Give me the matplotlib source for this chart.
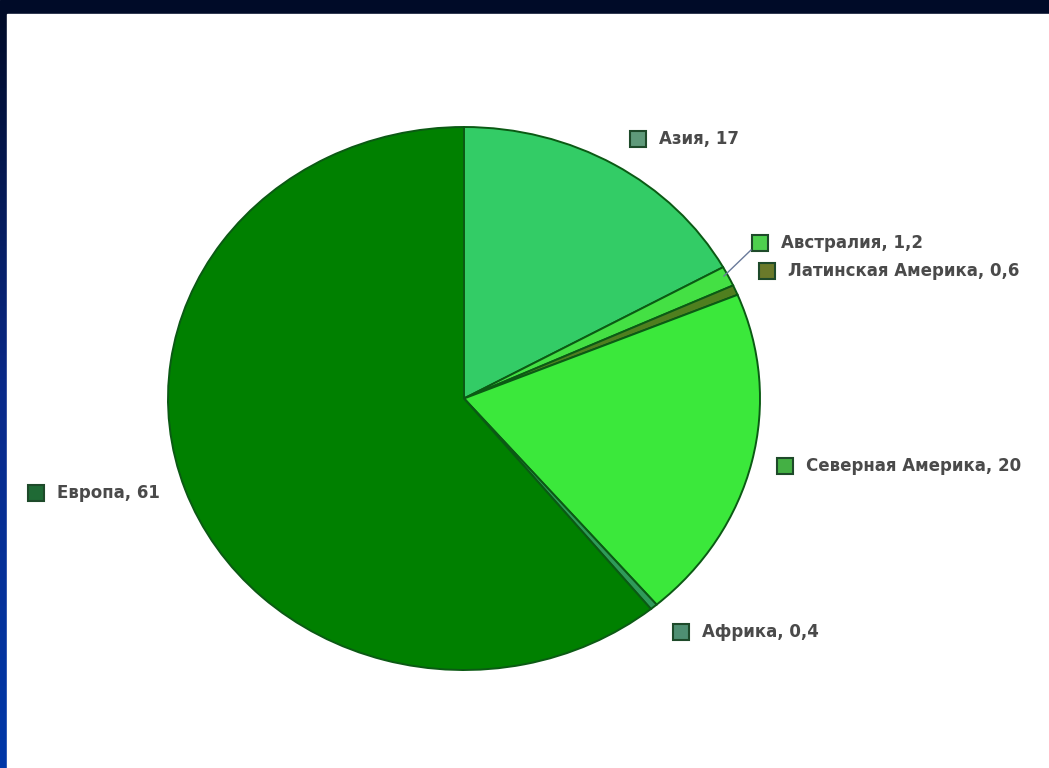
import numpy as np
import matplotlib
matplotlib.use("Agg")
import matplotlib.pyplot as plt
from matplotlib.patches import Rectangle

# data (clockwise from 12 o'clock)
regions = ["Азия", "Австралия", "Латинская Америка", "Северная Америка", "Африка", "Европа"]
values = [17, 1.2, 0.6, 20, 0.4, 61]
value_text = ["17", "1,2", "0,6", "20", "0,4", "61"]
colors = ["#33cc66", "#44e044", "#4f7f1f", "#3be83b", "#2f9a5a", "#008000"]
marker_colors = ["#5f9a7a", "#4ed04e", "#6a7a2a", "#44b044", "#4f8f72", "#1f6a35"]

W, H = 1049, 768
fig = plt.figure(figsize=(W / 100, H / 100), dpi=100)

# background frame
bg = fig.add_axes([0, 0, 1, 1], zorder=0)
bg.add_patch(Rectangle((0, 0), W, H, color="#000b28", zorder=1))
side = matplotlib.colors.LinearSegmentedColormap.from_list(
    "side", ["#000b28", "#0a2a8a", "#0038a8"])
grad = np.linspace(1, 0, 256).reshape(-1, 1)
bg.imshow(grad, extent=[0, 7, 14, H], cmap=side, aspect="auto",
          origin="upper", zorder=2)
bg.add_patch(Rectangle((7, 14), W - 7, H - 14, color="white", zorder=3))
bg.set_xlim(0, W)
bg.set_ylim(H, 0)
bg.axis("off")

# pie, stretched into its ellipse box (pixels: x 168..760, y 127..670)
x0, x1, y0, y1 = 168, 760, 127, 670
pie_ax = fig.add_axes([x0 / W, 1 - y1 / H, (x1 - x0) / W, (y1 - y0) / H], zorder=1)
pie_ax.pie(values, colors=colors, startangle=90, counterclock=False,
           wedgeprops=dict(edgecolor="#0b5a14", linewidth=1.4))
pie_ax.set_xlim(-1.0, 1.0)
pie_ax.set_ylim(-1.0, 1.0)
pie_ax.set_aspect("auto")
pie_ax.axis("off")

# labels overlay
ov = fig.add_axes([0, 0, 1, 1], zorder=2)
ov.set_xlim(0, W)
ov.set_ylim(H, 0)
ov.axis("off")
ov.patch.set_alpha(0)

label_pos = [(638, 139), (760, 243), (767, 271), (785, 466), (681, 632), (36, 493)]
for name, vt, mc, (mx, my) in zip(regions, value_text, marker_colors, label_pos):
    ov.add_patch(Rectangle((mx - 8, my - 8), 16, 16, facecolor=mc,
                           edgecolor="#1e4a2a", linewidth=1.5))
    ov.text(mx + 21, my, f"{name}, {vt}", fontsize=12, color="#4a4a4a",
            family="DejaVu Sans", fontweight="bold", va="center", ha="left")

# leader line for the small slices
ov.plot([751, 724], [250, 276], color="#6a7a9a", linewidth=1)

fig.savefig("out.png", dpi=100)
